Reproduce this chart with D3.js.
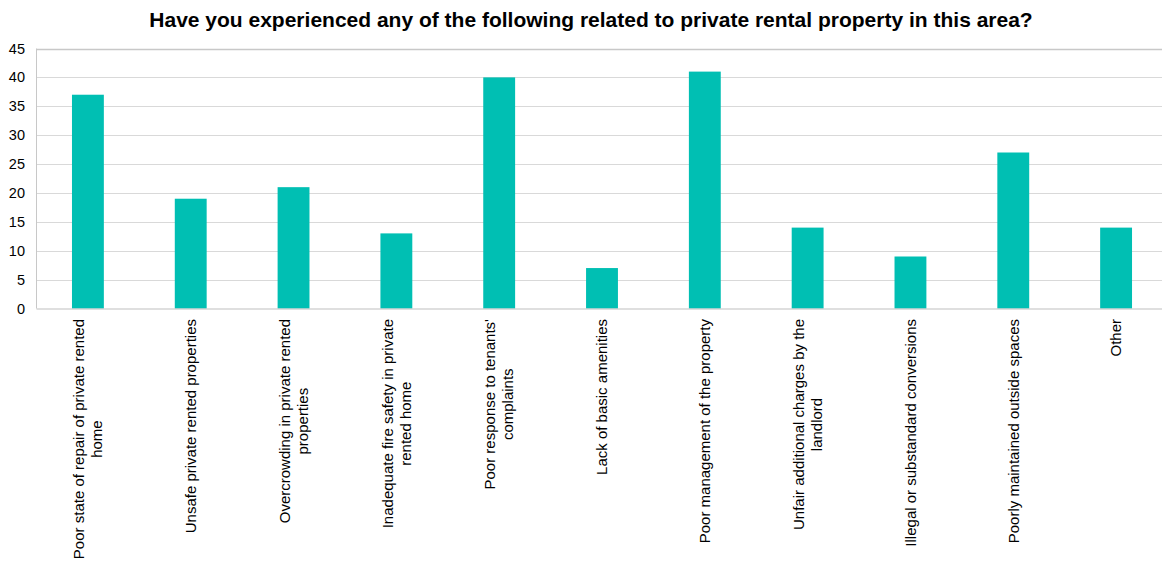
<!DOCTYPE html>
<html><head><meta charset="utf-8">
<script src="https://cdn.jsdelivr.net/npm/d3@7"></script>
<style>body{margin:0;background:#fff;} svg{display:block;}</style>
</head><body>
<svg id="chart" width="1162" height="572"></svg>
<script>
const title = "Have you experienced any of the following related to private rental property in this area?";
const categories = [
  ["Poor state of repair of private rented", "home"],
  ["Unsafe private rented properties"],
  ["Overcrowding in private rented", "properties"],
  ["Inadequate fire safety in private", "rented home"],
  ["Poor response to tenants'", "complaints"],
  ["Lack of basic amenities"],
  ["Poor management of the property"],
  ["Unfair additional charges by the", "landlord"],
  ["Illegal or substandard conversions"],
  ["Poorly maintained outside spaces"],
  ["Other"]
];
const values = [37, 19, 21, 13, 40, 7, 41, 14, 9, 27, 14];
const yTicks = [0, 5, 10, 15, 20, 25, 30, 35, 40, 45];

(function () {
const svg = d3.select("#chart");
const pLeft = 36.5, pRight = 1167.5, pTop = 48.5, pBottom = 308.5;
const font = "'Liberation Sans', Arial, sans-serif";

const x = d3.scaleBand().domain(d3.range(categories.length)).range([pLeft, pRight])
  .paddingInner(0.69).paddingOuter(0.345);
const y = d3.scaleLinear().domain([0, 45]).range([pBottom, pTop]);

// gridlines
svg.append("g").selectAll("line").data(yTicks.filter(d => d > 0)).join("line")
  .attr("x1", pLeft).attr("x2", pRight)
  .attr("y1", d => Math.round(y(d)) + 0.5).attr("y2", d => Math.round(y(d)) + 0.5)
  .attr("stroke", d => d === 45 ? "#c8c8c8" : "#d9d9d9").attr("stroke-width", d => d === 45 ? 1.5 : 1);

// left axis line
svg.append("line").attr("x1", pLeft).attr("x2", pLeft).attr("y1", y(45)).attr("y2", y(0))
  .attr("stroke", "#c8c8c8");

// bars
svg.append("g").selectAll("rect").data(values).join("rect")
  .attr("x", (d, i) => x(i)).attr("width", x.bandwidth())
  .attr("y", d => y(d)).attr("height", d => y(0) - y(d))
  .attr("fill", "#00BFB3");

// bottom axis line
svg.append("line").attr("x1", pLeft).attr("x2", pRight).attr("y1", pBottom + 0.5).attr("y2", pBottom + 0.5)
  .attr("stroke", "#c0c0c0").attr("stroke-width", 1.2);

// y tick labels
svg.append("g").selectAll("text").data(yTicks).join("text")
  .attr("x", 25).attr("y", d => y(d)).attr("dy", "0.35em")
  .attr("text-anchor", "end").attr("font-family", font).attr("font-size", 14.5)
  .attr("fill", "#000").text(d => d);

// x labels
const labelTop = 319;
const lineH = 18;
categories.forEach((lines, i) => {
  const cx = x(i) + x.bandwidth() / 2;
  const g = svg.append("g").attr("transform", `translate(${cx},${labelTop}) rotate(-90)`);
  const texts = lines.map((t, j) => g.append("text")
    .attr("font-family", font).attr("font-size", 15).attr("fill", "#000")
    .attr("y", (j - (lines.length - 1) / 2) * lineH).attr("dy", "0.35em")
    .attr("text-anchor", "middle").text(t));
  const L = d3.max(texts, t => t.node().getComputedTextLength());
  texts.forEach(t => t.attr("x", -L / 2));
});

// title
svg.append("text").attr("x", 591).attr("y", 27)
  .attr("text-anchor", "middle").attr("font-family", font).attr("font-size", 21)
  .attr("font-weight", "bold").attr("fill", "#000").text(title);
})();
</script>
</body></html>
